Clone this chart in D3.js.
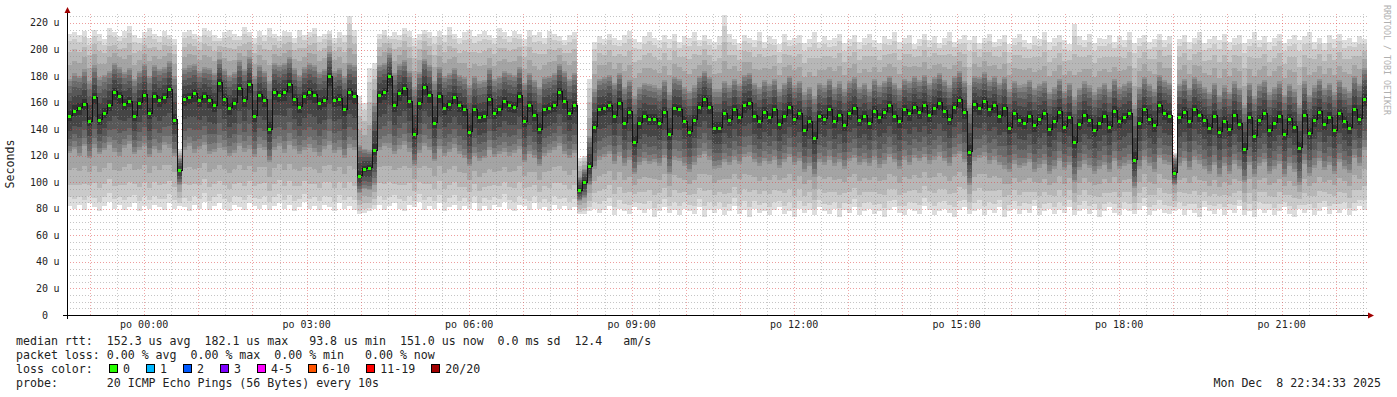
<!DOCTYPE html>
<html>
<head>
<meta charset="utf-8">
<script src="https://cdn.jsdelivr.net/npm/d3@7"></script>
<style>
  body { margin: 0; background: #fff; }
  text { font-family: "DejaVu Sans Mono", monospace; }
  .pre { white-space: pre; }
</style>
</head>
<body>
<svg id="chart" width="1397" height="397"></svg>
<script>
// time window of the graph (24h ending at the print time)
const startTime = new Date(2025, 11, 7, 22, 34, 33);
const endTime = new Date(2025, 11, 8, 22, 34, 33);

// median rtt per column (u = microseconds)
const median = [
  150,154,156,159,146,164,147,152,158,168,165,159,161,150,160,166,152,165,162,164,
  170,147,109,163,164,167,162,165,162,158,175,163,156,160,171,162,174,150,166,162,
  140,168,166,168,174,163,157,165,168,166,160,162,180,162,163,155,168,165,105,110,
  111,124,166,168,180,158,167,171,161,136,160,172,166,145,165,156,159,164,158,155,
  138,155,149,150,163,152,155,161,158,157,165,146,158,151,140,155,156,158,168,161,
  152,158,94,100,112,142,155,156,158,150,160,145,153,130,145,150,148,148,145,153,
  136,156,155,146,138,147,157,163,157,141,141,152,147,155,149,158,160,150,146,153,
  149,155,144,150,157,148,152,139,146,133,150,148,155,146,151,143,152,156,147,150,
  145,154,149,153,158,150,146,155,152,157,153,158,151,156,160,154,148,157,162,153,
  123,159,156,161,155,158,150,156,141,152,147,145,150,143,148,152,140,146,153,142,
  149,130,144,151,147,139,145,150,142,154,146,149,152,117,145,155,148,143,158,152,
  150,107,149,153,146,155,151,147,141,150,138,146,140,151,144,125,149,135,147,152,
  139,145,150,136,148,142,126,151,137,147,153,144,149,139,152,146,141,155,148,163
];

// slowest ping per column
const pingMax = [
  212,213,211,214,209,215,212,208,216,213,210,214,218,211,209,213,216,212,210,214,
  211,208,125,213,215,212,210,216,214,211,209,213,215,212,210,217,213,209,214,211,
  216,212,210,214,213,209,215,211,213,216,210,212,214,209,213,211,225,215,165,160,
  186,190,212,215,210,213,211,216,214,209,212,215,213,210,214,211,217,212,209,213,
  215,210,212,214,211,209,216,213,210,214,212,208,215,211,213,209,214,212,210,207,
  211,213,118,120,178,206,210,208,212,209,207,211,214,208,206,210,213,209,207,211,
  208,212,206,210,209,213,207,211,208,206,210,226,212,208,205,211,209,207,213,206,
  210,208,204,212,207,209,211,205,208,213,206,210,207,209,212,205,208,211,206,209,
  212,207,205,210,208,213,206,209,211,204,208,212,207,210,205,209,213,206,208,211,
  207,210,205,209,212,206,208,211,204,209,212,207,205,210,208,213,206,209,211,207,
  204,219,210,207,212,205,209,208,211,206,210,207,213,205,209,211,206,208,212,207,
  210,122,208,211,206,209,213,205,208,210,207,212,206,209,211,205,208,213,207,210,
  206,209,212,205,208,211,207,210,213,206,209,205,211,208,212,207,209,206,210,208
];

// fastest ping per column
const pingMin = [
  82,80,83,79,84,81,78,82,85,80,83,79,81,84,78,82,80,83,81,79,
  84,80,82,81,78,83,80,85,79,82,84,80,78,83,81,79,84,82,80,83,
  79,82,84,80,83,78,81,85,80,82,79,83,81,78,84,80,82,79,76,77,
  78,80,83,79,82,84,80,78,83,81,85,79,82,80,84,78,81,83,79,82,
  80,84,78,82,79,83,81,85,80,78,83,82,79,84,80,81,78,83,80,82,
  79,81,76,76,78,80,77,79,82,75,80,78,76,81,79,77,80,74,78,81,
  77,79,75,80,78,76,81,74,79,77,80,75,78,82,76,79,74,80,77,78,
  75,79,81,76,78,74,80,77,79,75,81,78,76,80,74,79,77,81,75,78,
  80,76,78,74,79,81,77,75,80,78,76,82,79,75,78,80,77,74,79,81,
  76,78,80,75,79,77,81,74,78,80,76,79,77,82,75,78,80,76,79,77,
  81,75,78,80,76,79,74,78,81,77,75,80,78,76,79,82,75,78,80,77,
  76,78,80,75,79,77,74,81,78,76,80,75,79,77,82,75,78,74,80,77,
  79,75,78,81,76,74,80,77,79,75,78,81,76,79,77,80,75,78,82,79
];

// upper quartile per column
const upperQ = [
  178,182,180,185,176,188,179,181,184,190,187,183,186,178,184,189,180,188,185,187,
  191,180,118,186,188,189,184,187,186,182,193,185,181,183,192,185,194,180,188,184,
  176,190,188,190,194,186,181,187,190,188,183,185,198,184,186,180,190,188,128,125,
  124,160,188,190,197,182,189,192,184,172,183,193,188,176,187,180,182,186,181,179,
  173,180,176,177,186,178,180,184,182,181,187,175,182,177,172,179,180,182,189,184,
  178,182,104,110,135,170,178,179,181,175,182,172,177,165,172,175,174,173,171,177,
  168,179,178,172,169,173,180,184,179,170,170,176,173,178,174,181,182,175,172,177,
  174,178,170,175,180,173,176,168,172,165,175,173,178,172,176,170,176,179,172,175,
  170,178,173,176,180,175,171,178,176,180,177,181,175,179,182,177,173,180,184,176,
  158,180,179,183,177,180,175,179,170,176,173,174,177,171,174,176,168,172,178,169,
  175,164,171,176,173,168,172,175,170,178,172,174,176,158,172,179,174,170,181,177,
  175,118,174,178,171,179,176,172,168,175,166,173,168,176,171,158,175,165,174,177,
  168,172,176,166,174,170,158,176,166,173,178,171,175,168,177,172,169,180,174,186
];

// lower quartile per column
const lowerQ = [
  122,125,120,127,118,126,121,124,128,123,120,126,129,121,124,127,119,125,122,128,
  126,120,98,124,127,122,125,128,121,123,126,124,120,122,127,123,125,119,126,124,
  115,124,127,122,128,125,121,124,126,123,120,125,128,122,124,118,126,124,92,95,
  94,98,124,127,126,121,125,128,123,112,122,127,124,116,125,120,123,126,121,118,
  112,120,116,118,124,119,121,123,120,122,125,115,121,118,112,120,122,124,127,121,
  118,122,86,88,98,110,117,119,121,114,120,112,117,106,113,116,114,115,112,118,
  106,117,116,112,108,113,118,121,117,110,111,115,113,117,114,119,120,115,112,116,
  114,117,111,115,119,113,116,108,112,104,115,113,117,112,115,110,116,118,113,115,
  112,117,111,114,119,115,110,117,113,118,116,119,114,117,120,116,112,119,121,115,
  98,116,118,120,114,117,113,110,108,114,111,112,115,108,111,114,106,110,116,109,
  113,100,109,114,111,106,110,113,108,116,110,112,114,96,110,117,112,108,118,114,
  113,98,112,116,109,117,114,110,106,113,104,112,106,114,110,100,113,104,112,115,
  106,110,114,104,112,108,98,114,105,111,116,109,113,106,115,110,107,118,112,124
];

const yTicks = [0, 20, 40, 60, 80, 100, 120, 140, 160, 180, 200, 220];

const lossLabels = ["0", "1", "2", "3", "4-5", "6-10", "11-19", "20/20"];
const lossColors = ["#26ff00", "#00b8ff", "#0059ff", "#7e00ff", "#ff00ff", "#ff5500", "#ff0000", "#a10000"];

const statsLines = [
  "median rtt:  152.3 us avg  182.1 us max   93.8 us min  151.0 us now  0.0 ms sd  12.4   am/s",
  "packet loss: 0.00 % avg  0.00 % max  0.00 % min   0.00 % now",
  "loss color:",
  "probe:       20 ICMP Echo Pings (56 Bytes) every 10s"
];
const printDate = "Mon Dec  8 22:34:33 2025";

const svg = d3.select('#chart');
svg.append('rect').attr('width', 1397).attr('height', 397).attr('fill', '#fff');

const x = d3.scaleTime().domain([startTime, endTime]).range([67, 1367]);
const y = d3.scaleLinear().domain([0, 226]).range([315, 15]);
const N = median.length;
const colTime = i => new Date(+startTime + (endTime - startTime) * i / N);

// smoke: 10 stacked bands, lighter outside, darker toward the median
const bands = 10;
function bandEdges(i, k) {
  let lo, hi;
  if (k <= 5) {
    const f = Math.pow((k - 1) / 4, 1.3);
    lo = pingMin[i] + (lowerQ[i] - pingMin[i]) * f;
    hi = pingMax[i] + (upperQ[i] - pingMax[i]) * f;
  } else {
    const f = Math.pow((k - 5) / 5.5, 1.6);
    lo = lowerQ[i] + (median[i] - lowerQ[i]) * f;
    hi = upperQ[i] + (median[i] - upperQ[i]) * f;
  }
  return [lo, hi];
}

const smoke = svg.append('g').attr('shape-rendering', 'crispEdges');
for (let k = 1; k <= bands; k++) {
  const g = Math.round(190 / bands * (bands - k)) + 50;
  const cols = d3.range(N).map(i => ({ i, e: bandEdges(i, k) }));
  smoke.append('g').attr('fill', d3.rgb(g, g, g))
    .selectAll('rect').data(cols).enter().append('rect')
    .attr('x', d => x(colTime(d.i)))
    .attr('width', d => x(colTime(d.i + 1)) - x(colTime(d.i)))
    .attr('y', d => y(d.e[1]))
    .attr('height', d => Math.max(0, y(d.e[0]) - y(d.e[1])));
}

// grid (drawn over the smoke like rrdtool does)
const grid = svg.append('g').attr('shape-rendering', 'crispEdges').attr('stroke-dasharray', '1,2');
const minorY = d3.range(0, 226, 5).filter(v => v % 20 !== 0);
grid.selectAll('.hmin').data(minorY).enter().append('line')
  .attr('x1', 67).attr('x2', 1367)
  .attr('y1', d => Math.round(y(d)) + 0.5).attr('y2', d => Math.round(y(d)) + 0.5)
  .attr('stroke', 'rgba(140,140,140,0.5)');
grid.selectAll('.hmaj').data(yTicks.slice(1)).enter().append('line')
  .attr('x1', 67).attr('x2', 1367)
  .attr('y1', d => Math.round(y(d)) + 0.5).attr('y2', d => Math.round(y(d)) + 0.5)
  .attr('stroke', 'rgba(220,60,60,0.5)');
const halfHours = d3.timeMinute.every(30).range(startTime, endTime).filter(t => t.getMinutes() !== 0);
const hours = d3.timeHour.every(1).range(startTime, endTime);
grid.selectAll('.vmin').data(halfHours).enter().append('line')
  .attr('x1', d => Math.round(x(d)) + 0.5).attr('x2', d => Math.round(x(d)) + 0.5)
  .attr('y1', 315).attr('y2', 13)
  .attr('stroke', 'rgba(140,140,140,0.45)');
grid.selectAll('.vmaj').data(hours).enter().append('line')
  .attr('x1', d => Math.round(x(d)) + 0.5).attr('x2', d => Math.round(x(d)) + 0.5)
  .attr('y1', 315).attr('y2', 13)
  .attr('stroke', 'rgba(220,60,60,0.45)');

// median: black step line plus loss-colour marks
const pts = median.map((v, i) => [colTime(i), v]).concat([[endTime, median[N - 1]]]);
svg.append('path').datum(pts)
  .attr('d', d3.line().x(d => x(d[0])).y(d => y(d[1])).curve(d3.curveStepAfter))
  .attr('fill', 'none').attr('stroke', '#111').attr('stroke-width', 1)
  .attr('shape-rendering', 'crispEdges');
svg.append('g').attr('fill', lossColors[0]).attr('shape-rendering', 'crispEdges')
  .selectAll('rect').data(median).enter().append('rect')
  .attr('x', (d, i) => Math.round(x(colTime(i))) + 1)
  .attr('y', d => Math.round(y(d)) - 1)
  .attr('width', 3).attr('height', 3);

// axes
const axis = svg.append('g').attr('shape-rendering', 'crispEdges');
axis.append('line').attr('x1', 63).attr('x2', 1370).attr('y1', 315.5).attr('y2', 315.5).attr('stroke', '#000');
axis.append('line').attr('x1', 67.5).attr('x2', 67.5).attr('y1', 319).attr('y2', 11).attr('stroke', '#000');
svg.append('path').attr('d', 'M1374,315.5 L1368,312.5 L1368,318.5 Z').attr('fill', '#a00000');
svg.append('path').attr('d', 'M67.5,7 L64.5,13 L70.5,13 Z').attr('fill', '#a00000');

// y labels
const yl = svg.append('g').attr('font-size', '10px').attr('fill', '#222');
yl.selectAll('.num').data(yTicks).enter().append('text')
  .attr('x', 48).attr('y', d => y(d) + 3.5).attr('text-anchor', 'end').text(d => d);
yl.selectAll('.unit').data(yTicks.slice(1)).enter().append('text')
  .attr('x', 53.5).attr('y', d => y(d) + 3.5).text('u');

// x labels
const fmt = d3.timeFormat('po %H:%M');
svg.append('g').attr('font-size', '10px').attr('fill', '#222')
  .selectAll('text').data(d3.timeHour.every(3).range(startTime, endTime)).enter().append('text')
  .attr('x', d => x(d)).attr('y', 328).attr('text-anchor', 'middle').text(d => fmt(d));

// axis title and watermark
svg.append('text').attr('transform', 'translate(14,164) rotate(-90)')
  .attr('text-anchor', 'middle').attr('font-size', '11.6px').attr('fill', '#222').text('Seconds');
svg.append('text').attr('transform', 'translate(1384,5) rotate(90)')
  .attr('font-size', '8.3px').attr('fill', '#b0b0b0').text('RRDTOOL / TOBI OETIKER');

// legend
const leg = svg.append('g').attr('font-size', '11.6px').attr('fill', '#222');
const charW = 7.02;
statsLines.forEach((s, i) => {
  leg.append('text').attr('class', 'pre').attr('x', 16).attr('y', 345 + i * 14).text(s);
});
let cursor = 108.5;
lossLabels.forEach((lab, i) => {
  leg.append('rect').attr('x', cursor + 0.5).attr('y', 364.5).attr('width', 8).attr('height', 8)
    .attr('fill', lossColors[i]).attr('stroke', '#000').attr('stroke-width', 1)
    .attr('shape-rendering', 'crispEdges');
  leg.append('text').attr('x', cursor + 14.5).attr('y', 373).text(lab);
  cursor = cursor + 14.5 + lab.length * charW + 15.5;
});
leg.append('text').attr('class', 'pre').attr('x', 1381).attr('y', 387).attr('text-anchor', 'end').text(printDate);
</script>
</body>
</html>
